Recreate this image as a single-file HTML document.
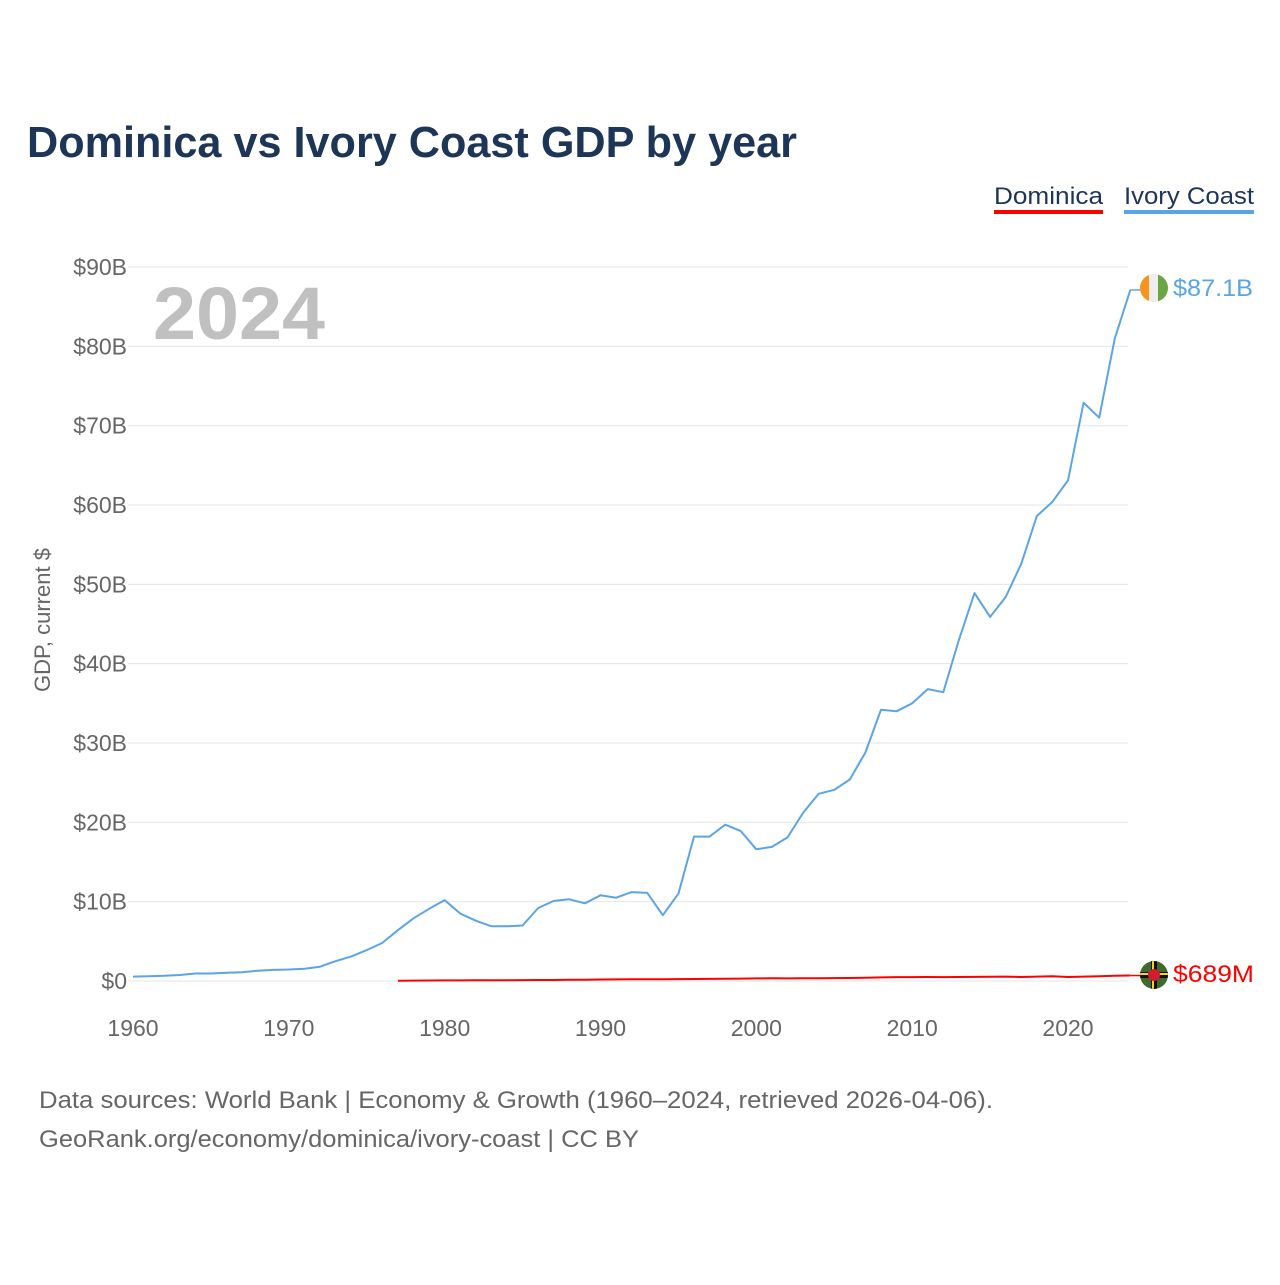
<!DOCTYPE html>
<html><head><meta charset="utf-8"><style>
body{margin:0;background:#fff;font-family:"Liberation Sans",sans-serif;}
svg text{font-family:"Liberation Sans",sans-serif;}
</style></head><body>
<svg width="1280" height="1280" viewBox="0 0 1280 1280">
<text x="27" y="157" font-size="44" font-weight="bold" fill="#1d3557" textLength="770" lengthAdjust="spacingAndGlyphs">Dominica vs Ivory Coast GDP by year</text>
<g>
<text x="994" y="204" font-size="24" fill="#1d3557" textLength="109" lengthAdjust="spacingAndGlyphs">Dominica</text>
<rect x="994" y="210" width="109" height="4" fill="#ff0000"/>
<text x="1124" y="204" font-size="24" fill="#1d3557" textLength="130" lengthAdjust="spacingAndGlyphs">Ivory Coast</text>
<rect x="1124" y="210" width="130" height="4" fill="#5ba4e6"/>
</g>
<text x="153" y="339" font-size="74" font-weight="bold" fill="#c0c0c0" textLength="172" lengthAdjust="spacingAndGlyphs">2024</text>
<text transform="translate(50,620) rotate(-90)" text-anchor="middle" font-size="22" fill="#666">GDP, current $</text>
<g id="grid"></g><g id="xt"></g><g id="lines"></g>
<g>
<clipPath id="c1"><circle cx="1154" cy="288" r="14"/></clipPath>
<g clip-path="url(#c1)"><rect x="1140" y="274" width="10" height="28" fill="#f7941d"/><rect x="1149" y="274" width="10" height="28" fill="#eee"/><rect x="1158" y="274" width="10" height="28" fill="#6ca544"/></g>
</g>
<text x="1173" y="296" font-size="24" fill="#5ba4e6" textLength="80" lengthAdjust="spacingAndGlyphs">$87.1B</text>
<g>
<clipPath id="c2"><circle cx="1154" cy="975" r="14"/></clipPath>
<g clip-path="url(#c2)"><rect x="1140" y="961" width="28" height="28" fill="#3e6b2c"/><rect x="1140" y="972" width="28" height="6" fill="#111"/><rect x="1140" y="973" width="28" height="2" fill="#fcd116"/><rect x="1151" y="961" width="6" height="28" fill="#111"/><rect x="1152" y="961" width="2" height="28" fill="#fcd116"/><circle cx="1154" cy="975" r="6" fill="#d41c30"/></g>
</g>
<text x="1173" y="982" font-size="24" fill="#ff0000" textLength="81" lengthAdjust="spacingAndGlyphs">$689M</text>
<text x="39" y="1108" font-size="24" fill="#666" textLength="954" lengthAdjust="spacingAndGlyphs">Data sources: World Bank | Economy &amp; Growth (1960–2024, retrieved 2026-04-06).</text>
<text x="39" y="1147" font-size="24" fill="#666" textLength="600" lengthAdjust="spacingAndGlyphs">GeoRank.org/economy/dominica/ivory-coast | CC BY</text>
</svg>
<script>
const yTicks=[0,10,20,30,40,50,60,70,80,90];
const yTickLabels=["$0","$10B","$20B","$30B","$40B","$50B","$60B","$70B","$80B","$90B"];
const xTicks=[1960,1970,1980,1990,2000,2010,2020];
const ivoryYears=[];for(let y=1960;y<=2024;y++)ivoryYears.push(y);
const ivoryValues=[0.55,0.6,0.65,0.75,0.95,0.95,1.05,1.1,1.3,1.4,1.45,1.55,1.8,2.5,3.1,3.9,4.8,6.4,7.9,9.1,10.2,8.5,7.6,6.9,6.9,7.0,9.2,10.1,10.3,9.8,10.8,10.5,11.2,11.1,8.3,11.0,18.2,18.2,19.7,18.9,16.6,16.9,18.1,21.2,23.6,24.1,25.4,28.8,34.2,34.0,35.0,36.8,36.4,43.0,48.9,45.9,48.4,52.6,58.6,60.4,63.1,72.9,71.0,81.0,87.1];
const domYears=[];for(let y=1977;y<=2024;y++)domYears.push(y);
const domValues=[0.04,0.05,0.06,0.07,0.08,0.09,0.09,0.1,0.11,0.12,0.13,0.15,0.17,0.19,0.2,0.21,0.22,0.23,0.24,0.25,0.26,0.28,0.3,0.33,0.34,0.33,0.34,0.35,0.36,0.38,0.41,0.45,0.49,0.49,0.5,0.49,0.5,0.52,0.54,0.56,0.51,0.55,0.61,0.5,0.55,0.61,0.65,0.689];
const NS="http://www.w3.org/2000/svg";
const xs=v=>133+(v-1960)*(935/60);
const ys=v=>981-v*(714/90);
function mk(t,a,p){const e=document.createElementNS(NS,t);for(const k in a)e.setAttribute(k,a[k]);p.appendChild(e);return e;}
const grid=document.getElementById('grid');
yTicks.forEach((t,i)=>{
 const l=mk('line',{x1:128,x2:1128,y1:ys(t),y2:ys(t),stroke:'#e6e6e6','stroke-width':1},grid);
 
 
 const tx=mk('text',{x:127,y:ys(t)+8,'text-anchor':'end','font-size':23,fill:'#666'},grid);
 tx.textContent=yTickLabels[i];
 
 
});
const xt=document.getElementById('xt');
xTicks.forEach(t=>{
 const tx=mk('text',{x:xs(t),y:1036,'text-anchor':'middle','font-size':23,fill:'#666'},xt);
 tx.textContent=t;
 
 
});
const lines=document.getElementById('lines');
function path(yrs,vals,col,name){
 const d=yrs.map((y,i)=>(i?'L':'M')+xs(y).toFixed(1)+','+ys(vals[i]).toFixed(1)).join('');
 const p=mk('path',{d:d,fill:'none',stroke:col,'stroke-width':2,'stroke-linejoin':'round'},lines);
 
 
 return p;
}
path(ivoryYears,ivoryValues,'#5ba4e6','ivory-coast-line');
path(domYears,domValues,'#ff0000','dominica-line');
const c1=mk('path',{d:'M'+xs(2024)+','+ys(87.1)+'h10',stroke:'#5ba4e6','stroke-width':1.5,fill:'none'},lines);


const c2=mk('path',{d:'M'+xs(2024)+','+ys(0.689)+'h10',stroke:'#ff0000','stroke-width':1.5,fill:'none'},lines);


</script>
</body></html>
